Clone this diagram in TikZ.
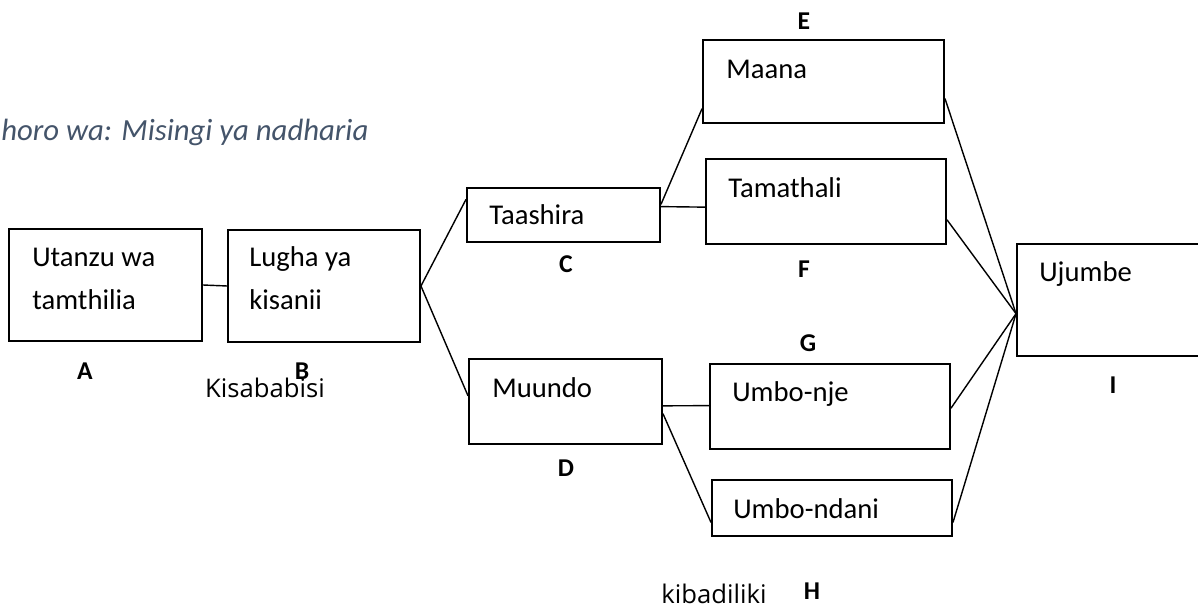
\documentclass[tikz,border=0pt]{standalone}
\usepackage{fontspec}
\setmainfont{Carlito}
\newfontfamily\osans{Open Sans}
\usetikzlibrary{fit,calc}
\definecolor{titlecol}{HTML}{44546A}
\tikzset{
  box/.style={draw=black, line width=1.1pt, inner sep=0pt, rectangle},
  conn/.style={draw=black, line width=0.8pt},
  boxtext/.style={anchor=base west, inner sep=0pt, font=\fontsize{16.3pt}{19pt}\selectfont},
  letter/.style={inner sep=0pt, font=\fontsize{14.6pt}{17pt}\selectfont\bfseries},
  note/.style={inner sep=0pt, font=\osans\fontsize{14.6pt}{17pt}\selectfont},
}
\begin{document}
\begin{tikzpicture}[x=0.02cm,y=-0.02cm]
\useasboundingbox (0,0) rectangle (1198,607);
% title
\node[anchor=base west, inner sep=0pt, text=titlecol, font=\fontsize{17.5pt}{20pt}\selectfont\itshape] (title) at (1,141) {horo wa: Misingi ya nadharia};
% boxes
\node[box, fit={(9,229)(202,341)}] (A) {};
\node[box, fit={(228,230)(420,342)}] (B) {};
\node[box, fit={(467,188)(660,242)}] (C) {};
\node[box, fit={(469,359)(662,444)}] (D) {};
\node[box, fit={(703,40)(944,123)}] (E) {};
\node[box, fit={(706,159)(946,244)}] (F) {};
\node[box, fit={(710,364)(950,449)}] (G) {};
\node[box, fit={(712,480)(952,536)}] (H) {};
\node[box, fit={(1017,244)(1210,356)}] (I) {};
% box texts
\node[boxtext] (tA1) at (32,267) {Utanzu wa};
\node[boxtext] (tA2) at (32,310) {tamthilia};
\node[boxtext] (tB1) at (249,267) {Lugha ya};
\node[boxtext] (tB2) at (249,310) {kisanii};
\node[boxtext] (tC) at (489,225) {Taashira};
\node[boxtext] (tD) at (492,398) {Muundo};
\node[boxtext] (tE) at (726,79) {Maana};
\node[boxtext] (tF) at (728,198) {Tamathali};
\node[boxtext] (tG) at (732,402) {Umbo-nje};
\node[boxtext] (tH) at (733,519) {Umbo-ndani};
\node[boxtext] (tI) at (1039,282) {Ujumbe};
% letters
\node[letter] (lA) at (85,371) {A};
\node[letter] (lB) at (302,371) {B};
\node[letter] (lC) at (566,264) {C};
\node[letter] (lD) at (566,468) {D};
\node[letter] (lE) at (804,21) {E};
\node[letter] (lF) at (804,269) {F};
\node[letter] (lG) at (808,343) {G};
\node[letter] (lH) at (812,591) {H};
\node[letter] (lI) at (1113,385) {I};
% notes
\node[note, anchor=base] (n1) at (265,398) {Kisababisi};
\node[note, anchor=base] (n2) at (714,604) {kibadiliki};
% connector points
\coordinate (Cin) at ($(C.north west)!0.22!(C.south west)$);
\coordinate (Din) at ($(D.north west)!0.435!(D.south west)$);
\coordinate (CoE) at ($(C.north east)!0.31!(C.south east)$);
\coordinate (CoF) at ($(C.north east)!0.35!(C.south east)$);
\coordinate (EinC) at ($(E.north west)!0.82!(E.south west)$);
\coordinate (FinC) at ($(F.north west)!0.565!(F.south west)$);
\coordinate (DoG) at ($(D.north east)!0.55!(D.south east)$);
\coordinate (DoH) at ($(D.north east)!0.64!(D.south east)$);
\coordinate (GinD) at ($(G.north west)!0.49!(G.south west)$);
\coordinate (HinD) at ($(H.north west)!0.75!(H.south west)$);
\coordinate (Eout) at ($(E.north east)!0.70!(E.south east)$);
\coordinate (Fout) at ($(F.north east)!0.71!(F.south east)$);
\coordinate (Gout) at ($(G.north east)!0.52!(G.south east)$);
\coordinate (Hout) at ($(H.north east)!0.75!(H.south east)$);
\coordinate (Iin) at ($(I.north west)!0.62!(I.south west)$);
% connectors
\draw[conn] (A.east) -- (B.west);
\draw[conn] (B.east) -- (Cin);
\draw[conn] (B.east) -- (Din);
\draw[conn] (CoE) -- (EinC);
\draw[conn] (CoF) -- (FinC);
\draw[conn] (DoG) -- (GinD);
\draw[conn] (DoH) -- (HinD);
\draw[conn] (Eout) -- (Iin);
\draw[conn] (Fout) -- (Iin);
\draw[conn] (Gout) -- (Iin);
\draw[conn] (Hout) -- (Iin);
\end{tikzpicture}
\end{document}
